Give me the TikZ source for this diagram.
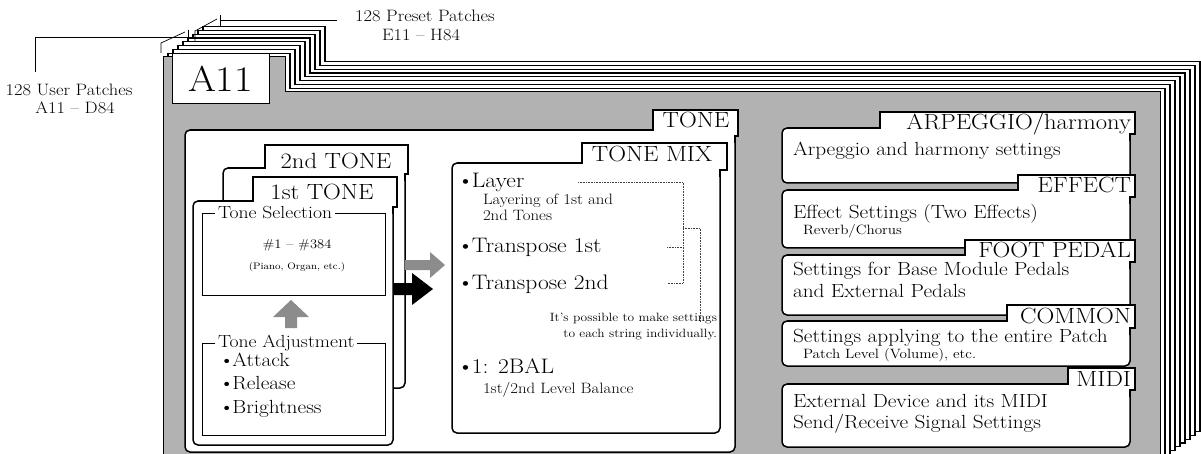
\documentclass[tikz,border=0pt]{standalone}
\usepackage{fontspec}
\setmainfont{Latin Modern Roman}[FakeStretch=1.12]
\newcommand\bul{\textbullet\kern-2pt}
\newcommand\tabpanel[8]{%
  \draw[panelbody] (#1,#3) rectangle (#2,#4);
  \fill[white] (#5,#6) rectangle (#7,#8);
  \draw[panelline] (#1+5,#3) -- (#5,#3) -- (#5,#6) -- (#7,#6) -- (#7,#8) -- (#2,#8) -- (#2,#8+7);
}
\begin{document}
\begin{tikzpicture}[x=1pt,y=-1pt,
  every node/.style={inner sep=0pt,outer sep=0pt},
  backpage/.style={fill=white,draw=black,line width=1.3pt},
  frontpage/.style={fill=black!30,draw=black,line width=1pt},
  panelbody/.style={fill=white,draw=black,line width=1.5pt,rounded corners=5pt},
  panelline/.style={draw=black,line width=1.5pt},
  subbox/.style={draw=black,line width=0.9pt},
  thinline/.style={draw=black,line width=0.7pt},
  dotline/.style={draw=black!75,line width=0.6pt,densely dotted},
  stipple/.style={fill=black!45},
  blockarrow/.style={fill=black},
  lbl/.style={font=\fontsize{22}{25}\selectfont,anchor=base},
  rlbl/.style={font=\fontsize{22}{25}\selectfont,anchor=base east},
  body/.style={font=\fontsize{19}{22}\selectfont,anchor=base west},
  small/.style={font=\fontsize{13.5}{16}\selectfont,anchor=base west},
  mix/.style={font=\fontsize{21}{24}\selectfont,anchor=base west},
  mixsmall/.style={font=\fontsize{15}{17}\selectfont,anchor=base west},
  note/.style={font=\fontsize{12}{14}\selectfont,anchor=base east},
  toplbl/.style={font=\fontsize{16.5}{19}\selectfont},
  boxtitle/.style={font=\fontsize{17.5}{20}\selectfont,anchor=west,fill=white,inner xsep=3pt},
]
\useasboundingbox (0,0) rectangle (1201,454);
\fill[white] (0,0) rectangle (1201,454);
\begin{scope}
\clip (0,0) rectangle (1201,454);
\foreach \k in {8,7,...,1}{
  \draw[backpage,shift={(5*\k,-3.8*\k)}] (163,57) -- (285,57) -- (285,92) -- (1160,92) -- (1160,462) -- (163,462) -- cycle;
}
\draw[frontpage] (163,57) -- (285,57) -- (285,92) -- (1160,92) -- (1160,462) -- (163,462) -- cycle;

% A11 label
\node[draw,line width=1pt,fill=white,minimum width=97pt,minimum height=50pt,
  font=\fontsize{36}{40}\selectfont] (a11) at (220.5,79) {A11};

% brackets
\coordinate (u0) at (35,72);
\coordinate (u1) at (35,37);
\coordinate (u2) at (188,37);
\draw[thinline] (u0) -- (u1) -- (u2);
\draw[thinline] (161,53) -- (161,43) -- (185,32);
\draw[thinline] (188,30) -- (188,41);
\coordinate (p1) at (220,20);
\coordinate (p2) at (337,20);
\draw[thinline] (p1) -- (p2);
\draw[thinline] (195,41) -- (195,31) -- (217,19);
\draw[thinline] (220,15) -- (220,26);

\node[toplbl] (upatch) at (69,90) {128 User Patches};
\node[toplbl] (urange) at (75,108) {A11 – D84};
\node[toplbl] (ppatch) at (425,16) {128 Preset Patches};
\node[toplbl] (prange) at (421,35) {E11 – H84};

% TONE panel
\tabpanel{185}{735}{130}{452}{653}{110}{738}{136}
\node[lbl] (tone) at (696,128) {TONE};

% 2nd TONE card
\tabpanel{223}{405}{168}{388}{265}{145}{408}{174}
\node[lbl] (tone2) at (336,169) {2nd TONE};
% 1st TONE card
\tabpanel{193}{393}{201}{445}{253}{177}{397}{207}
\node[lbl] (tone1) at (322,200) {1st TONE};

% Tone selection
\draw[subbox] (202,213) rectangle (385,295);
\node[boxtitle] (tsel) at (215,213) {Tone Selection};
\node[font=\fontsize{13}{15}\selectfont] (range) at (297,245) {\#1 – \#384};
\node[font=\fontsize{9.5}{11}\selectfont] (inst) at (297,267) {(Piano, Organ, etc.)};
% gray up arrow
\fill[stipple] (291,300) -- (309,317) -- (297,317) -- (297,328) -- (285,328) -- (285,317) -- (273,317) -- cycle;
% Tone adjustment
\draw[subbox] (202,343) rectangle (385,435);
\node[boxtitle] (tadj) at (215,343) {Tone Adjustment};
\node[body] (att) at (219,366) {\bul Attack};
\node[body] (rel) at (219,389) {\bul Release};
\node[body] (bri) at (219,413) {\bul Brightness};

% arrows to tone mix
\fill[stipple] (405,260) -- (430,260) -- (430,252) -- (445,265) -- (430,278) -- (430,270) -- (405,270) -- cycle;
\fill[blockarrow] (393,283) -- (412,283) -- (412,273) -- (433,289) -- (412,305) -- (412,295) -- (393,295) -- cycle;

% TONE MIX
\tabpanel{452}{720}{163}{433}{582}{143}{727}{170}
\node[lbl] (tonemix) at (652,162) {TONE MIX};
\node[mix] (layer) at (457,188) {\bul Layer};
\node[mixsmall] (layd1) at (483,205) {Layering of 1st and};
\node[mixsmall] (layd2) at (483,221) {2nd Tones};
\node[mix] (tr1) at (457,253) {\bul Transpose 1st};
\node[mix] (tr2) at (457,289) {\bul Transpose 2nd};
\node[note] (poss1) at (717,321) {It's possible to make settings};
\node[note] (poss2) at (717,337) {to each string individually.};
\node[mix] (bal) at (457,373) {\bul 1: 2BAL};
\node[mixsmall] (bald) at (483,393) {1st/2nd Level Balance};
\draw[dotline] (578,182) -- (683,182) -- (683,283) -- (667,283);
\draw[dotline] (667,247) -- (683,247);
\draw[dotline] (683,228) -- (700,228) -- (700,322);

% right panels
\tabpanel{782}{1130}{128}{183}{880}{112}{1135}{134}
\node[rlbl] (arp) at (1131,130) {ARPEGGIO/harmony};
\node[body] (arpt) at (793,156) {Arpeggio and harmony settings};

\tabpanel{782}{1130}{190}{248}{1018}{175}{1135}{197}
\node[rlbl] (eff) at (1131,193) {EFFECT};
\node[body] (efft) at (793,219) {Effect Settings (Two Effects)};
\node[small] (effs) at (803,235) {Reverb/Chorus};

\tabpanel{782}{1130}{255}{315}{965}{240}{1135}{262}
\node[rlbl] (foot) at (1131,258) {FOOT PEDAL};
\node[body] (foott1) at (793,276) {Settings for Base Module Pedals};
\node[body] (foott2) at (793,297) {and External Pedals};

\tabpanel{782}{1130}{321}{366}{1007}{305}{1135}{328}
\node[rlbl] (com) at (1131,323) {COMMON};
\node[body] (comt) at (793,342) {Settings applying to the entire Patch};
\node[small] (coms) at (803,358) {Patch Level (Volume), etc.};

\tabpanel{782}{1130}{384}{447}{1068}{368}{1135}{390}
\node[rlbl] (midi) at (1131,386) {MIDI};
\node[body] (midt1) at (793,407) {External Device and its MIDI};
\node[body] (midt2) at (793,428) {Send/Receive Signal Settings};
\end{scope}
\end{tikzpicture}
\end{document}
